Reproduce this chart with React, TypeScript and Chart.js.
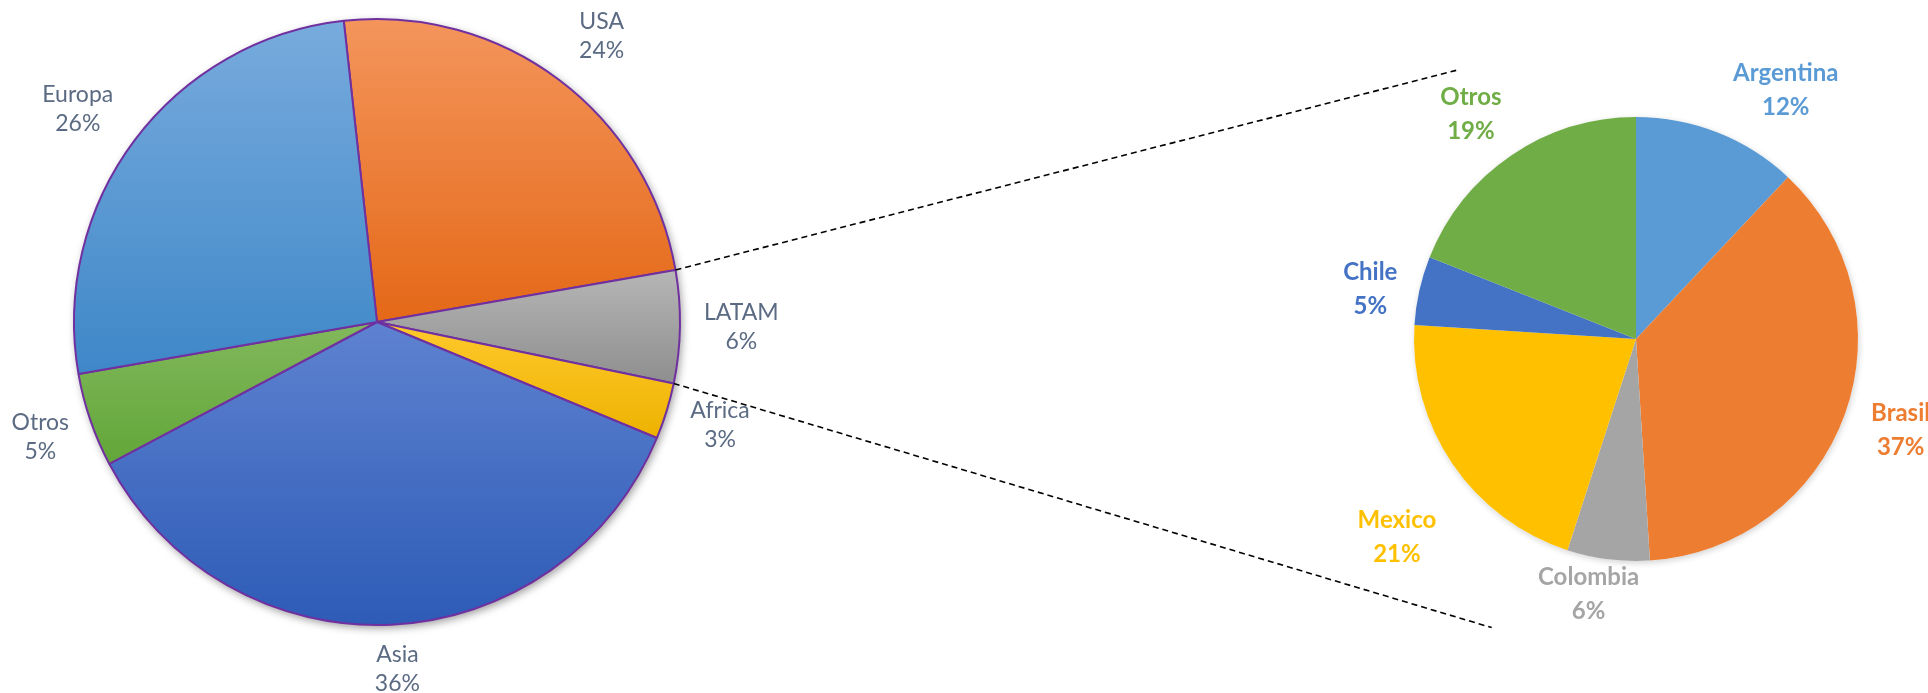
import React, { useEffect, useRef } from "react";
import { Chart, registerables } from "chart.js";

Chart.register(...registerables);

// ---- data ----
const regionLabels = ["USA", "LATAM", "Africa", "Asia", "Otros", "Europa"];
const regionShares = [24, 6, 3, 36, 5, 26];
const regionLight = ["#F4955C", "#B6B6B6", "#FFC92C", "#5E82D0", "#82B85C", "#78ABDD"];
const regionDark = ["#E46817", "#8E8E8E", "#EDB200", "#2D5BB6", "#62A638", "#3E87C8"];

const latamLabels = ["Argentina", "Brasil", "Colombia", "Mexico", "Chile", "Otros"];
const latamShares = [12, 37, 6, 21, 5, 19];
const latamColors = ["#5B9BD5", "#ED7D31", "#A5A5A5", "#FFC000", "#4472C4", "#70AD47"];

const W = 1928;
const H = 693;
const REGION_ROTATION = -6.3;
const LATAM_INDEX = 1;

function sliceGradient(ctx: any) {
  const chart = ctx.chart;
  const area = chart.chartArea;
  const i = ctx.dataIndex;
  if (!area || i === undefined) return regionLight[i ?? 0];
  const cx = (area.left + area.right) / 2;
  const cy = (area.top + area.bottom) / 2;
  const r = Math.min(area.right - area.left, area.bottom - area.top) / 2;
  const total = regionShares.reduce((a, b) => a + b, 0);
  let cum = 0;
  for (let k = 0; k < i; k++) cum += regionShares[k];
  const a0 = ((REGION_ROTATION - 90) * Math.PI) / 180;
  const s = a0 + (cum / total) * Math.PI * 2;
  const e = s + (regionShares[i] / total) * Math.PI * 2;
  const ys = [cy, cy + r * Math.sin(s), cy + r * Math.sin(e)];
  const contains = (t: number) => {
    const d = (((t - s) % (2 * Math.PI)) + 2 * Math.PI) % (2 * Math.PI);
    return d <= e - s;
  };
  if (contains(Math.PI / 2)) ys.push(cy + r);
  if (contains(-Math.PI / 2)) ys.push(cy - r);
  const y0 = Math.min(...ys);
  const y1 = Math.max(...ys);
  const g = chart.ctx.createLinearGradient(0, y0, 0, y1 + 0.01);
  g.addColorStop(0, regionLight[i]);
  g.addColorStop(1, regionDark[i]);
  return g;
}

const shadowPlugin = (color: string, blur: number, ox: number, oy: number) => ({
  id: "pieShadow",
  beforeDatasetsDraw(chart: any) {
    const arc = chart.getDatasetMeta(0).data[0];
    if (!arc) return;
    const { x, y, outerRadius } = arc.getProps(["x", "y", "outerRadius"], true);
    const ctx = chart.ctx;
    ctx.save();
    ctx.shadowColor = color;
    ctx.shadowBlur = blur;
    ctx.shadowOffsetX = ox;
    ctx.shadowOffsetY = oy;
    ctx.beginPath();
    ctx.arc(x, y, outerRadius, 0, Math.PI * 2);
    ctx.fillStyle = "#ffffff";
    ctx.fill();
    ctx.restore();
  },
});

type LabelOpts = {
  font: string;
  lineHeight: number;
  gap: number;
  colors: (i: number) => string;
  labels: string[];
  values: number[];
  nudge: number[][];
};

const labelPlugin = (o: LabelOpts) => ({
  id: "outsideLabels",
  afterDatasetsDraw(chart: any) {
    const ctx = chart.ctx;
    const meta = chart.getDatasetMeta(0);
    const total = o.values.reduce((a, b) => a + b, 0);
    ctx.save();
    ctx.font = o.font;
    ctx.textAlign = "center";
    ctx.textBaseline = "middle";
    meta.data.forEach((arc: any, i: number) => {
      const { x, y, startAngle, endAngle, outerRadius } = arc.getProps(
        ["x", "y", "startAngle", "endAngle", "outerRadius"],
        true
      );
      const mid = (startAngle + endAngle) / 2;
      const line1 = o.labels[i];
      const line2 = Math.round((o.values[i] / total) * 100) + "%";
      const w = Math.max(ctx.measureText(line1).width, ctx.measureText(line2).width);
      const h = o.lineHeight * 2;
      const c = Math.cos(mid);
      const s = Math.sin(mid);
      const ax = x + c * (outerRadius + o.gap);
      const ay = y + s * (outerRadius + o.gap);
      const n = o.nudge[i] || [0, 0];
      const bx = ax + (c * w) / 2 + n[0];
      const by = ay + (s * h) / 2 + n[1];
      ctx.fillStyle = o.colors(i);
      ctx.fillText(line1, bx, by - o.lineHeight / 2);
      ctx.fillText(line2, bx, by + o.lineHeight / 2);
    });
    ctx.restore();
  },
});

export default function App() {
  const leftRef = useRef<HTMLCanvasElement>(null);
  const rightRef = useRef<HTMLCanvasElement>(null);

  useEffect(() => {
    const left = new Chart(leftRef.current!, {
      type: "pie",
      data: {
        labels: regionLabels,
        datasets: [
          {
            data: regionShares,
            backgroundColor: sliceGradient as any,
            borderColor: "#7030A0",
            borderWidth: 2,
            hoverOffset: 0,
          },
        ],
      },
      options: {
        animation: false,
        responsive: false,
        devicePixelRatio: 1,
        events: [],
        rotation: REGION_ROTATION,
        layout: { padding: { left: 73, right: W - 681, top: 18, bottom: H - 626 } },
        plugins: { legend: { display: false }, tooltip: { enabled: false } },
      },
      plugins: [
        shadowPlugin("rgba(0,0,0,0.4)", 9, 2, 3),
        labelPlugin({
          font: "23px Lato",
          lineHeight: 29,
          gap: 22,
          colors: () => "#5B6B83",
          labels: regionLabels,
          values: regionShares,
          nudge: [[16, -3], [2, 0], [4, -1], [4, -7], [-2, 0], [-11, 0]],
        }),
      ],
    });

    const connectors = {
      id: "connectors",
      afterDraw(chart: any) {
        const src = left.getDatasetMeta(0).data[LATAM_INDEX] as any;
        const dst = chart.getDatasetMeta(0).data[0] as any;
        if (!src || !dst) return;
        const p = src.getProps(["x", "y", "startAngle", "endAngle", "outerRadius"], true);
        const q = dst.getProps(["x", "y", "outerRadius"], true);
        const ctx = chart.ctx;
        ctx.save();
        ctx.strokeStyle = "#000000";
        ctx.lineWidth = 1.6;
        ctx.setLineDash([6, 4]);
        ctx.beginPath();
        ctx.moveTo(p.x + p.outerRadius * Math.cos(p.startAngle), p.y + p.outerRadius * Math.sin(p.startAngle));
        ctx.lineTo(q.x - 0.81 * q.outerRadius, q.y - 1.21 * q.outerRadius);
        ctx.moveTo(p.x + p.outerRadius * Math.cos(p.endAngle), p.y + p.outerRadius * Math.sin(p.endAngle));
        ctx.lineTo(q.x - 0.65 * q.outerRadius, q.y + 1.3 * q.outerRadius);
        ctx.stroke();
        ctx.restore();
      },
    };

    const right = new Chart(rightRef.current!, {
      type: "pie",
      data: {
        labels: latamLabels,
        datasets: [
          {
            data: latamShares,
            backgroundColor: latamColors,
            borderWidth: 0,
            hoverOffset: 0,
          },
        ],
      },
      options: {
        animation: false,
        responsive: false,
        devicePixelRatio: 1,
        events: [],
        layout: { padding: { left: 1414, right: W - 1858, top: 117, bottom: H - 561 } },
        plugins: { legend: { display: false }, tooltip: { enabled: false } },
      },
      plugins: [
        shadowPlugin("rgba(0,0,0,0.18)", 6, 1, 2),
        labelPlugin({
          font: "bold 24px Lato",
          lineHeight: 34,
          gap: 18,
          colors: (i) => latamColors[i],
          labels: latamLabels,
          values: latamShares,
          nudge: [[42, 6], [11, -2], [-11, -17], [-8, 44], [-5, 10], [-13, 2]],
        }),
        connectors,
      ],
    });

    return () => {
      right.destroy();
      left.destroy();
    };
  }, []);

  return (
    <div style={{ position: "fixed", left: 0, top: 0, width: W, height: H, background: "#ffffff" }}>
      <canvas ref={leftRef} width={W} height={H} style={{ position: "absolute", left: 0, top: 0 }} />
      <canvas ref={rightRef} width={W} height={H} style={{ position: "absolute", left: 0, top: 0 }} />
    </div>
  );
}
